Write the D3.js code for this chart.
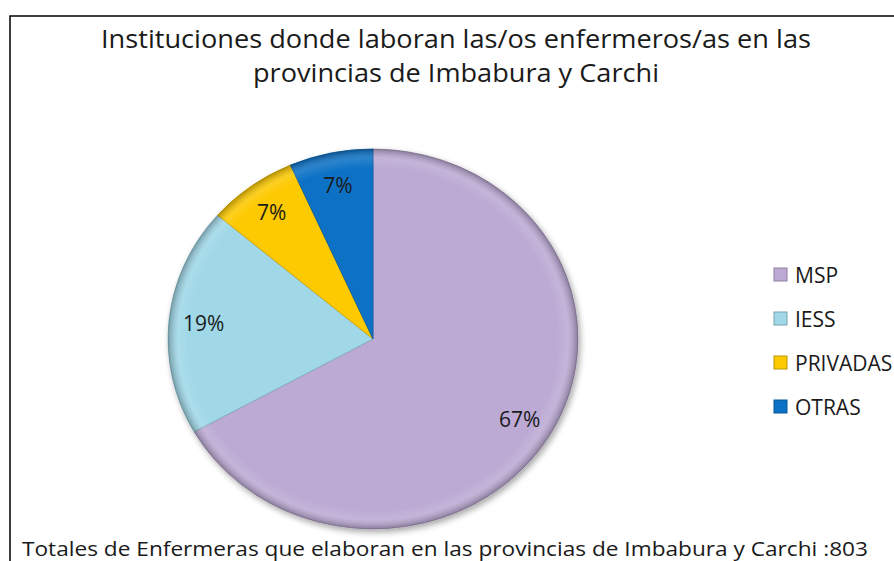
<!DOCTYPE html>
<html>
<head>
<meta charset="utf-8">
<script src="https://cdn.jsdelivr.net/npm/d3@7"></script>
<style>
  body { margin: 0; background: #fff; }
  svg text { font-family: "Open Sans", "Noto Sans", sans-serif; fill: #1a1a1a; }
</style>
</head>
<body>
<script>
// data (total 803)
var categories = ['MSP', 'IESS', 'PRIVADAS', 'OTRAS'];
var counts = [537, 156, 57, 53];
var colors = ['#bcaad4', '#a0d8e8', '#fdc900', '#0b72c6'];
var titleLines = ['Instituciones donde laboran las/os enfermeros/as en las', 'provincias de Imbabura y Carchi'];
var footNote = 'Totales de Enfermeras que elaboran en las provincias de Imbabura y Carchi :803';

var width = 894, height = 561;
var cx = 373, cy = 339, rx = 205, ry = 190;

var data = categories.map(function(c, i) {
  return {name: c, value: counts[i], color: colors[i]};
});
var total = d3.sum(counts);

var svg = d3.select('body').append('svg')
  .attr('width', width)
  .attr('height', height);

var defs = svg.append('defs');

var shadow = defs.append('filter').attr('id', 'shadow')
  .attr('x', '-10%').attr('y', '-10%').attr('width', '125%').attr('height', '125%');
shadow.append('feGaussianBlur').attr('in', 'SourceAlpha').attr('stdDeviation', 3);
shadow.append('feOffset').attr('dx', 2).attr('dy', 3).attr('result', 'off');
shadow.append('feComponentTransfer').append('feFuncA').attr('type', 'linear').attr('slope', 0.35);
var merge = shadow.append('feMerge');
merge.append('feMergeNode');
merge.append('feMergeNode').attr('in', 'SourceGraphic');

var rim = defs.append('radialGradient').attr('id', 'rim')
  .attr('cx', '50%').attr('cy', '50%').attr('r', '50%');
rim.append('stop').attr('offset', '0%').attr('stop-color', '#fff').attr('stop-opacity', 0);
rim.append('stop').attr('offset', '90%').attr('stop-color', '#fff').attr('stop-opacity', 0);
rim.append('stop').attr('offset', '95%').attr('stop-color', '#fff').attr('stop-opacity', 0.12);
rim.append('stop').attr('offset', '100%').attr('stop-color', '#000').attr('stop-opacity', 0.28);

// chart frame (runs off the right and bottom edges)
svg.append('rect')
  .attr('x', 10).attr('y', 16)
  .attr('width', 1000).attr('height', 700)
  .attr('fill', 'none')
  .attr('stroke', '#000')
  .attr('stroke-width', 1.5);

svg.selectAll('text.title')
  .data(titleLines)
  .enter().append('text')
  .attr('class', 'title')
  .attr('x', 456)
  .attr('y', function(d, i) { return 48 + i * 34; })
  .attr('text-anchor', 'middle')
  .attr('font-size', 25)
  .attr('textLength', function(d, i) { return i === 0 ? 710 : 406; })
  .attr('lengthAdjust', 'spacingAndGlyphs')
  .text(function(d) { return d; });

var pie = d3.pie().sort(null).value(function(d) { return d.value; });
var arc = d3.arc().innerRadius(0).outerRadius(ry);
var arcs = pie(data);

var g = svg.append('g')
  .attr('transform', 'translate(' + cx + ',' + cy + ') scale(' + (rx / ry) + ',1)');

var slices = g.append('g').attr('filter', 'url(#shadow)');
slices.selectAll('path')
  .data(arcs)
  .enter().append('path')
  .attr('d', arc)
  .attr('fill', function(d) { return d.data.color; })
  .attr('stroke', function(d) { return d3.color(d.data.color).darker(0.6); })
  .attr('stroke-width', 0.8);

g.append('ellipse')
  .attr('rx', ry).attr('ry', ry)
  .attr('fill', 'url(#rim)')
  .attr('pointer-events', 'none');

// percent labels
svg.selectAll('text.pct')
  .data(arcs)
  .enter().append('text')
  .attr('class', 'pct')
  .attr('x', function(d) {
    var mid = (d.startAngle + d.endAngle) / 2;
    return cx + Math.sin(mid) * rx * 0.83;
  })
  .attr('y', function(d) {
    var mid = (d.startAngle + d.endAngle) / 2;
    return cy - Math.cos(mid) * ry * 0.83;
  })
  .attr('text-anchor', 'middle')
  .attr('dominant-baseline', 'central')
  .attr('font-size', 21)
  .text(function(d) { return Math.round(d.data.value / total * 100) + '%'; });

// legend
var legend = svg.append('g').attr('transform', 'translate(774,275)');
var item = legend.selectAll('g')
  .data(data)
  .enter().append('g')
  .attr('transform', function(d, i) { return 'translate(0,' + (i * 44) + ')'; });
item.append('rect')
  .attr('x', 0).attr('y', -7)
  .attr('width', 13).attr('height', 13)
  .attr('fill', function(d) { return d.color; })
  .attr('stroke', function(d) { return d3.color(d.color).darker(0.8); })
  .attr('stroke-width', 1);
item.append('text')
  .attr('x', 21)
  .attr('y', 0)
  .attr('dominant-baseline', 'central')
  .attr('font-size', 21)
  .text(function(d) { return d.name; });

svg.append('text')
  .attr('x', 22)
  .attr('y', 556)
  .attr('font-size', 20)
  .attr('textLength', 846)
  .attr('lengthAdjust', 'spacingAndGlyphs')
  .text(footNote);
</script>
</body>
</html>
